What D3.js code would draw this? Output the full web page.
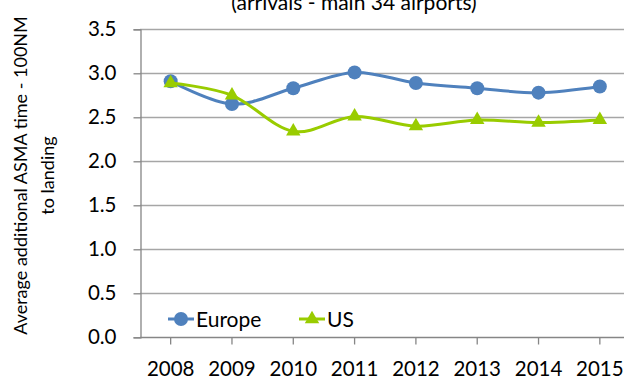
<!DOCTYPE html>
<html>
<head>
<meta charset="utf-8">
<script src="https://cdn.jsdelivr.net/npm/d3@7"></script>
<style>
  html, body { margin: 0; padding: 0; background: #fff; }
  svg { display: block; font-family: Lato, "Open Sans", sans-serif; }
</style>
</head>
<body>
<svg id="chart" width="624" height="379"></svg>
<script>
// Additional ASMA time (100NM to landing), arrivals at main 34 airports
const years = ["2008", "2009", "2010", "2011", "2012", "2013", "2014", "2015"];
const europe = [2.91, 2.65, 2.83, 3.01, 2.89, 2.83, 2.78, 2.85];
const us = [2.89, 2.75, 2.34, 2.51, 2.40, 2.47, 2.44, 2.47];
const yTicks = [0, 0.5, 1.0, 1.5, 2.0, 2.5, 3.0, 3.5];
const seriesNames = ["Europe", "US"];

const svg = d3.select("#chart");
const W = 624, H = 379;
const plotLeft = 140, plotRight = 630.5, plotTop = 29.3, plotBottom = 337.3;

const x = d3.scaleBand().domain(years).range([plotLeft, plotRight]);
const y = d3.scaleLinear().domain([0, 3.5]).range([plotBottom, plotTop]);

const gridColor = "#a6a6a6";
const axisColor = "#868686";
const blue = "#4f81bd";
const green = "#99cc00";

// Title (partly above the visible area)
svg.append("text")
  .attr("x", 354).attr("y", 9.5)
  .attr("text-anchor", "middle")
  .attr("font-size", 21)
  .attr("fill", "#000")
  .text("(arrivals - main 34 airports)");

// Horizontal gridlines
svg.append("g").selectAll("line")
  .data(yTicks.filter(d => d > 0))
  .join("line")
  .attr("x1", plotLeft).attr("x2", W)
  .attr("y1", d => Math.round(y(d)) + 0.5).attr("y2", d => Math.round(y(d)) + 0.5)
  .attr("stroke", gridColor).attr("stroke-width", 1.3);

// Y axis
const yAxis = d3.axisLeft(y).tickValues(yTicks).tickFormat(d3.format(".1f")).tickSize(7).tickPadding(17);
const gy = svg.append("g").attr("transform", `translate(${plotLeft + 0.5},0)`).call(yAxis);
gy.select(".domain").attr("stroke", axisColor).attr("stroke-width", 1.3);
gy.selectAll(".tick line").attr("stroke", axisColor).attr("stroke-width", 1.3);
gy.selectAll(".tick text").attr("font-size", 20.5).attr("fill", "#000").attr("font-family", "Lato, sans-serif");

// X axis with ticks at category centres
const xc = d => x(d) + x.bandwidth() / 2;
const gx = svg.append("g").attr("transform", `translate(0,${Math.round(plotBottom) + 0.5})`);
gx.append("line").attr("x1", plotLeft).attr("x2", W).attr("stroke", axisColor).attr("stroke-width", 1.3);
gx.selectAll("line.tk").data(years).join("line").attr("class", "tk")
  .attr("x1", xc).attr("x2", xc).attr("y1", 0).attr("y2", 7)
  .attr("stroke", axisColor).attr("stroke-width", 1.3);
gx.selectAll("text").data(years).join("text")
  .attr("x", xc).attr("y", 38)
  .attr("text-anchor", "middle").attr("font-size", 20.5).attr("fill", "#000")
  .text(d => d);

// Y axis title, two lines rotated
const yt = svg.append("text")
  .attr("transform", `translate(27,175.5) rotate(-90)`)
  .attr("text-anchor", "middle").attr("font-size", 18).attr("fill", "#000");
yt.append("tspan").attr("x", 0).attr("y", 0).text("Average additional ASMA time - 100NM");
yt.append("tspan").attr("x", 0).attr("y", 27).text("to landing");

// Series lines (smoothed)
const line = d3.line()
  .x((d, i) => xc(years[i]))
  .y(d => y(d))
  .curve(d3.curveCardinal.tension(0));

svg.append("path").datum(europe).attr("d", line)
  .attr("fill", "none").attr("stroke", blue).attr("stroke-width", 3).attr("stroke-linejoin", "round");
svg.append("g").selectAll("circle").data(europe).join("circle")
  .attr("cx", (d, i) => xc(years[i])).attr("cy", d => y(d)).attr("r", 7).attr("fill", blue);

const tri = d3.symbol().type(d3.symbolTriangle).size(90);
svg.append("path").datum(us).attr("d", line)
  .attr("fill", "none").attr("stroke", green).attr("stroke-width", 3).attr("stroke-linejoin", "round");
svg.append("g").selectAll("path").data(us).join("path")
  .attr("d", tri)
  .attr("transform", (d, i) => `translate(${xc(years[i])},${y(d)})`)
  .attr("fill", green);

// Legend
const lg = svg.append("g").attr("transform", "translate(0,319)");
const items = [
  { name: seriesNames[0], x: 168, color: blue, kind: "circle" },
  { name: seriesNames[1], x: 299, color: green, kind: "triangle" }
];
items.forEach(it => {
  lg.append("line").attr("x1", it.x).attr("x2", it.x + 26).attr("y1", 0).attr("y2", 0)
    .attr("stroke", it.color).attr("stroke-width", 3);
  if (it.kind === "circle") {
    lg.append("circle").attr("cx", it.x + 13).attr("cy", 0).attr("r", 7).attr("fill", it.color);
  } else {
    lg.append("path").attr("d", tri).attr("transform", `translate(${it.x + 13},0)`).attr("fill", it.color);
  }
  lg.append("text").attr("x", it.x + 28).attr("y", 7.5).attr("font-size", 21).attr("fill", "#000").text(it.name);
});
</script>
</body>
</html>
